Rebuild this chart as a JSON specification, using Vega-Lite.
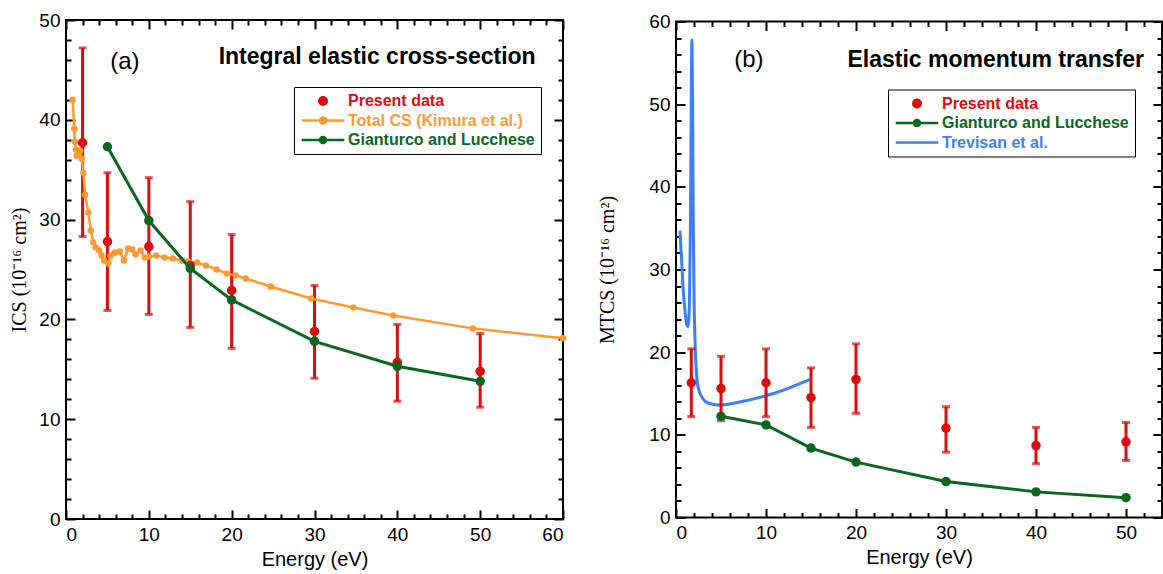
{
  "$schema": "https://vega.github.io/schema/vega-lite/v6.json",
  "background": "white",
  "padding": {"left": 8, "top": 10, "right": 0, "bottom": 0},
  "datasets": {
    "a_present": [
      {"E": 2, "v": 37.7, "lo": 28.3, "hi": 47.2},
      {"E": 5, "v": 27.8, "lo": 20.9, "hi": 34.7},
      {"E": 10, "v": 27.3, "lo": 20.5, "hi": 34.2},
      {"E": 15, "v": 25.4, "lo": 19.2, "hi": 31.8},
      {"E": 20, "v": 22.9, "lo": 17.1, "hi": 28.5},
      {"E": 30, "v": 18.8, "lo": 14.1, "hi": 23.4},
      {"E": 40, "v": 15.7, "lo": 11.8, "hi": 19.5},
      {"E": 50, "v": 14.8, "lo": 11.2, "hi": 18.6}
    ],
    "a_kimura": [
      {"E": 0.8, "v": 42.0}, {"E": 1.0, "v": 39.1}, {"E": 1.05, "v": 37.8}, {"E": 1.2, "v": 37.0},
      {"E": 1.3, "v": 36.4}, {"E": 1.5, "v": 36.5}, {"E": 1.7, "v": 36.9}, {"E": 1.9, "v": 36.1},
      {"E": 2.1, "v": 34.7}, {"E": 2.3, "v": 32.5}, {"E": 2.7, "v": 30.7}, {"E": 3.0, "v": 28.9},
      {"E": 3.3, "v": 27.7}, {"E": 3.6, "v": 27.2}, {"E": 4.0, "v": 26.9}, {"E": 4.3, "v": 26.4},
      {"E": 4.6, "v": 25.9}, {"E": 5.1, "v": 25.6}, {"E": 5.4, "v": 26.4}, {"E": 5.9, "v": 26.7},
      {"E": 6.5, "v": 26.8}, {"E": 7.0, "v": 25.9}, {"E": 7.5, "v": 27.1}, {"E": 8.0, "v": 27.0},
      {"E": 8.4, "v": 26.5}, {"E": 9.0, "v": 26.9}, {"E": 9.5, "v": 26.2}, {"E": 10.0, "v": 26.3},
      {"E": 10.9, "v": 26.4}, {"E": 11.9, "v": 26.2}, {"E": 12.9, "v": 26.1}, {"E": 14.0, "v": 25.9},
      {"E": 14.8, "v": 25.8}, {"E": 15.8, "v": 25.7}, {"E": 16.9, "v": 25.4}, {"E": 18.2, "v": 25.0},
      {"E": 19.4, "v": 24.6}, {"E": 20.5, "v": 24.4}, {"E": 21.7, "v": 24.1}, {"E": 24.7, "v": 23.3},
      {"E": 29.6, "v": 22.1}, {"E": 34.7, "v": 21.2}, {"E": 39.5, "v": 20.4}, {"E": 49.1, "v": 19.1},
      {"E": 60, "v": 18.1}
    ],
    "a_gl": [
      {"E": 5, "v": 37.3}, {"E": 10, "v": 29.9}, {"E": 15, "v": 25.1}, {"E": 20, "v": 21.95},
      {"E": 30, "v": 17.8}, {"E": 40, "v": 15.3}, {"E": 50, "v": 13.8}
    ],
    "a_text": [
      {"label": "(a)", "E": 7.1, "v": 45.8}
    ],
    "a_title": [
      {"label": "Integral elastic cross-section", "E": 56.7, "v": 46.3}
    ],
    "b_present": [
      {"E": 1.7, "v": 16.3, "lo": 12.2, "hi": 20.4},
      {"E": 5, "v": 15.6, "lo": 11.7, "hi": 19.5},
      {"E": 10, "v": 16.3, "lo": 12.2, "hi": 20.4},
      {"E": 15, "v": 14.5, "lo": 10.9, "hi": 18.1},
      {"E": 20, "v": 16.7, "lo": 12.6, "hi": 21.0},
      {"E": 30, "v": 10.8, "lo": 7.9, "hi": 13.4},
      {"E": 40, "v": 8.7, "lo": 6.5, "hi": 10.9},
      {"E": 50, "v": 9.15, "lo": 6.9, "hi": 11.5}
    ],
    "b_gl": [
      {"E": 5, "v": 12.25}, {"E": 10, "v": 11.2}, {"E": 15, "v": 8.4}, {"E": 20, "v": 6.7},
      {"E": 30, "v": 4.35}, {"E": 40, "v": 3.1}, {"E": 50, "v": 2.4}
    ],
    "b_trev": [
      {"E": 0.44, "v": 34.7}, {"E": 0.63, "v": 31.0}, {"E": 0.81, "v": 27.4}, {"E": 1.0, "v": 25.0},
      {"E": 1.2, "v": 23.3}, {"E": 1.35, "v": 23.1}, {"E": 1.5, "v": 26.5}, {"E": 1.6, "v": 35.0},
      {"E": 1.68, "v": 47.0}, {"E": 1.76, "v": 57.8}, {"E": 1.84, "v": 51.0}, {"E": 1.92, "v": 36.0},
      {"E": 2.0, "v": 27.0}, {"E": 2.1, "v": 21.8}, {"E": 2.4, "v": 16.1}, {"E": 2.8, "v": 14.7},
      {"E": 3.3, "v": 14.0}, {"E": 4.1, "v": 13.7}, {"E": 4.9, "v": 13.6}, {"E": 7.2, "v": 14.0},
      {"E": 9.9, "v": 14.7}, {"E": 12.4, "v": 15.6}, {"E": 14.9, "v": 16.7}
    ],
    "b_text": [
      {"label": "(b)", "E": 8.1, "v": 55.4}
    ],
    "b_title": [
      {"label": "Elastic momentum transfer", "E": 52, "v": 55.4}
    ]
  },
  "config": {
    "view": {"stroke": "black", "strokeWidth": 2},
    "font": "Liberation Sans",
    "axis": {
      "domain": false, "grid": false,
      "labelFont": "Liberation Sans", "labelFontSize": 19, "labelColor": "black",
      "tickColor": "black", "tickWidth": 2,
      "titleFont": "Liberation Sans", "titleFontSize": 20, "titleFontWeight": "normal", "titleColor": "black"
    },
    "legend": {
      "orient": "none", "title": null,
      "strokeColor": "black", "fillColor": "white", "padding": 6,
      "labelFont": "Liberation Sans", "labelFontWeight": "bold", "labelFontSize": 16, "labelLimit": 400,
      "labelColor": {"expr": "datum.value === 'Present data' ? '#e00b0b' : datum.value === 'Gianturco and Lucchese' ? '#0b661e' : datum.value === 'Trevisan et al.' ? '#3a7fff' : '#ff9a33'"},
      "symbolType": {"expr": "datum.value === 'Present data' ? 'M-0.7,0A0.7,0.7 0 1,1 0.7,0A0.7,0.7 0 1,1 -0.7,0Z' : datum.value === 'Trevisan et al.' ? 'M-3,-0.18H3V0.18H-3Z' : 'M-3,-0.18H3V0.18H-3Z M-0.6,0A0.6,0.6 0 1,1 0.6,0A0.6,0.6 0 1,1 -0.6,0Z'"},
      "symbolSize": 202, "symbolStrokeWidth": 0, "symbolOffset": 15, "labelOffset": 17, "rowPadding": 3.5
    }
  },
  "spacing": 27,
  "center": true,
  "resolve": {"scale": {"color": "independent"}, "legend": {"color": "independent"}},
  "hconcat": [
    {
      "width": 497, "height": 499,
      "layer": [
        {
          "data": {"name": "a_present"},
          "mark": {"type": "rule", "color": "#e00b0b", "strokeWidth": 3},
          "encoding": {
            "x": {"field": "E", "type": "quantitative", "scale": {"domain": [0, 60], "nice": false, "zero": false},
              "axis": {"orient": "bottom", "values": [0,2,4,6,8,10,12,14,16,18,20,22,24,26,28,30,32,34,36,38,40,42,44,46,48,50,52,54,56,58,60],
                "labelExpr": "datum.value % 10 === 0 ? datum.label : ''",
                "tickSize": {"condition": {"test": "datum.value % 10 === 0", "value": -9}, "value": -5},
                "labelPadding": 15, "title": "Energy (eV)", "titlePadding": 5}},
            "y": {"field": "lo", "type": "quantitative", "scale": {"domain": [0, 50], "nice": false, "zero": false},
              "axis": {"orient": "left", "values": [0,2,4,6,8,10,12,14,16,18,20,22,24,26,28,30,32,34,36,38,40,42,44,46,48,50],
                "labelExpr": "datum.value % 10 === 0 ? datum.label : ''",
                "tickSize": {"condition": {"test": "datum.value % 10 === 0", "value": -9}, "value": -5},
                "labelPadding": 15, "title": "ICS (10⁻¹⁶ cm²)", "titleFont": "Liberation Serif", "titleFontSize": 20, "titlePadding": 9}},
            "y2": {"field": "hi"}
          }
        },
        {
          "data": {"name": "a_present"},
          "mark": {"type": "tick", "orient": "horizontal", "color": "#e00b0b", "thickness": 3, "size": 8},
          "encoding": {
            "x": {"field": "E", "type": "quantitative",
              "axis": {"orient": "top", "values": [0,2,4,6,8,10,12,14,16,18,20,22,24,26,28,30,32,34,36,38,40,42,44,46,48,50,52,54,56,58,60],
                "labels": false, "title": null,
                "tickSize": {"condition": {"test": "datum.value % 10 === 0", "value": -9}, "value": -5}}},
            "y": {"field": "lo", "type": "quantitative",
              "axis": {"orient": "right", "values": [0,2,4,6,8,10,12,14,16,18,20,22,24,26,28,30,32,34,36,38,40,42,44,46,48,50],
                "labels": false, "title": null,
                "tickSize": {"condition": {"test": "datum.value % 10 === 0", "value": -9}, "value": -5}}}
          }
        },
        {
          "data": {"name": "a_present"},
          "mark": {"type": "tick", "orient": "horizontal", "color": "#e00b0b", "thickness": 3, "size": 8},
          "encoding": {
            "x": {"field": "E", "type": "quantitative", "axis": null},
            "y": {"field": "hi", "type": "quantitative", "axis": null}
          }
        },
        {
          "data": {"name": "a_kimura"},
          "mark": {"type": "line", "color": "#ff9a33", "strokeWidth": 2.5},
          "encoding": {
            "x": {"field": "E", "type": "quantitative", "axis": null},
            "y": {"field": "v", "type": "quantitative", "axis": null}
          }
        },
        {
          "data": {"name": "a_kimura"},
          "mark": {"type": "point", "filled": true, "size": 42, "opacity": 1},
          "encoding": {
            "x": {"field": "E", "type": "quantitative", "axis": null},
            "y": {"field": "v", "type": "quantitative", "axis": null},
            "color": {"datum": "Total CS (Kimura et al.)", "type": "nominal",
              "scale": {"domain": ["Present data", "Total CS (Kimura et al.)", "Gianturco and Lucchese"], "range": ["#e00b0b", "#ff9a33", "#0b661e"]},
              "legend": {"legendX": 228, "legendY": 67}}
          }
        },
        {
          "data": {"name": "a_present"},
          "mark": {"type": "point", "filled": true, "size": 90, "opacity": 1},
          "encoding": {
            "x": {"field": "E", "type": "quantitative", "axis": null},
            "y": {"field": "v", "type": "quantitative", "axis": null},
            "color": {"datum": "Present data", "type": "nominal"}
          }
        },
        {
          "data": {"name": "a_gl"},
          "mark": {"type": "line", "color": "#0b661e", "strokeWidth": 3},
          "encoding": {
            "x": {"field": "E", "type": "quantitative", "axis": null},
            "y": {"field": "v", "type": "quantitative", "axis": null}
          }
        },
        {
          "data": {"name": "a_gl"},
          "mark": {"type": "point", "filled": true, "size": 90, "opacity": 1},
          "encoding": {
            "x": {"field": "E", "type": "quantitative", "axis": null},
            "y": {"field": "v", "type": "quantitative", "axis": null},
            "color": {"datum": "Gianturco and Lucchese", "type": "nominal"}
          }
        },
        {
          "data": {"name": "a_text"},
          "mark": {"type": "text", "font": "Liberation Sans", "fontSize": 24, "align": "center", "baseline": "middle", "color": "black"},
          "encoding": {
            "x": {"field": "E", "type": "quantitative", "axis": null},
            "y": {"field": "v", "type": "quantitative", "axis": null},
            "text": {"field": "label"}
          }
        },
        {
          "data": {"name": "a_title"},
          "mark": {"type": "text", "font": "Liberation Sans", "fontSize": 23, "fontWeight": "bold", "align": "right", "baseline": "middle", "color": "black"},
          "encoding": {
            "x": {"field": "E", "type": "quantitative", "axis": null},
            "y": {"field": "v", "type": "quantitative", "axis": null},
            "text": {"field": "label"}
          }
        }
      ]
    },
    {
      "width": 486, "height": 496,
      "layer": [
        {
          "data": {"name": "b_trev"},
          "mark": {"type": "line", "strokeWidth": 3, "interpolate": "monotone"},
          "encoding": {
            "x": {"field": "E", "type": "quantitative", "scale": {"domain": [0, 54], "nice": false, "zero": false},
              "axis": {"orient": "bottom", "values": [0,2,4,6,8,10,12,14,16,18,20,22,24,26,28,30,32,34,36,38,40,42,44,46,48,50,52,54],
                "labelExpr": "datum.value % 10 === 0 ? datum.label : ''",
                "tickSize": {"condition": {"test": "datum.value % 10 === 0", "value": -9}, "value": -5},
                "labelPadding": 15, "title": "Energy (eV)", "titlePadding": 5}},
            "y": {"field": "v", "type": "quantitative", "scale": {"domain": [0, 60], "nice": false, "zero": false},
              "axis": {"orient": "left", "values": [0,2,4,6,8,10,12,14,16,18,20,22,24,26,28,30,32,34,36,38,40,42,44,46,48,50,52,54,56,58,60],
                "labelExpr": "datum.value % 10 === 0 ? datum.label : ''",
                "tickSize": {"condition": {"test": "datum.value % 10 === 0", "value": -9}, "value": -5},
                "labelPadding": 15, "title": "MTCS (10⁻¹⁶ cm²)", "titleFont": "Liberation Serif", "titleFontSize": 20, "titlePadding": 31}},
            "color": {"datum": "Trevisan et al.", "type": "nominal",
              "scale": {"domain": ["Present data", "Gianturco and Lucchese", "Trevisan et al."], "range": ["#e00b0b", "#0b661e", "#3a7fff"]},
              "legend": {"legendX": 212, "legendY": 68}}
          }
        },
        {
          "data": {"name": "b_present"},
          "mark": {"type": "rule", "color": "#e00b0b", "strokeWidth": 3},
          "encoding": {
            "x": {"field": "E", "type": "quantitative",
              "axis": {"orient": "top", "values": [0,2,4,6,8,10,12,14,16,18,20,22,24,26,28,30,32,34,36,38,40,42,44,46,48,50,52,54],
                "labels": false, "title": null,
                "tickSize": {"condition": {"test": "datum.value % 10 === 0", "value": -9}, "value": -5}}},
            "y": {"field": "lo", "type": "quantitative",
              "axis": {"orient": "right", "values": [0,2,4,6,8,10,12,14,16,18,20,22,24,26,28,30,32,34,36,38,40,42,44,46,48,50,52,54,56,58,60],
                "labels": false, "title": null,
                "tickSize": {"condition": {"test": "datum.value % 10 === 0", "value": -9}, "value": -5}}},
            "y2": {"field": "hi"}
          }
        },
        {
          "data": {"name": "b_present"},
          "mark": {"type": "tick", "orient": "horizontal", "color": "#e00b0b", "thickness": 3, "size": 8},
          "encoding": {
            "x": {"field": "E", "type": "quantitative", "axis": null},
            "y": {"field": "lo", "type": "quantitative", "axis": null}
          }
        },
        {
          "data": {"name": "b_present"},
          "mark": {"type": "tick", "orient": "horizontal", "color": "#e00b0b", "thickness": 3, "size": 8},
          "encoding": {
            "x": {"field": "E", "type": "quantitative", "axis": null},
            "y": {"field": "hi", "type": "quantitative", "axis": null}
          }
        },
        {
          "data": {"name": "b_present"},
          "mark": {"type": "point", "filled": true, "size": 90, "opacity": 1},
          "encoding": {
            "x": {"field": "E", "type": "quantitative", "axis": null},
            "y": {"field": "v", "type": "quantitative", "axis": null},
            "color": {"datum": "Present data", "type": "nominal"}
          }
        },
        {
          "data": {"name": "b_gl"},
          "mark": {"type": "line", "color": "#0b661e", "strokeWidth": 3},
          "encoding": {
            "x": {"field": "E", "type": "quantitative", "axis": null},
            "y": {"field": "v", "type": "quantitative", "axis": null}
          }
        },
        {
          "data": {"name": "b_gl"},
          "mark": {"type": "point", "filled": true, "size": 90, "opacity": 1},
          "encoding": {
            "x": {"field": "E", "type": "quantitative", "axis": null},
            "y": {"field": "v", "type": "quantitative", "axis": null},
            "color": {"datum": "Gianturco and Lucchese", "type": "nominal"}
          }
        },
        {
          "data": {"name": "b_text"},
          "mark": {"type": "text", "font": "Liberation Sans", "fontSize": 24, "align": "center", "baseline": "middle", "color": "black"},
          "encoding": {
            "x": {"field": "E", "type": "quantitative", "axis": null},
            "y": {"field": "v", "type": "quantitative", "axis": null},
            "text": {"field": "label"}
          }
        },
        {
          "data": {"name": "b_title"},
          "mark": {"type": "text", "font": "Liberation Sans", "fontSize": 23, "fontWeight": "bold", "align": "right", "baseline": "middle", "color": "black"},
          "encoding": {
            "x": {"field": "E", "type": "quantitative", "axis": null},
            "y": {"field": "v", "type": "quantitative", "axis": null},
            "text": {"field": "label"}
          }
        }
      ]
    }
  ]
}
